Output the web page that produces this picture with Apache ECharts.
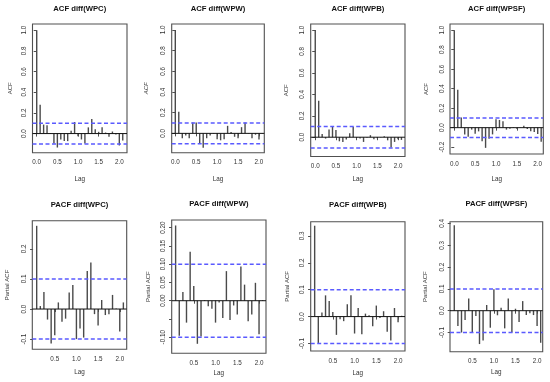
<!DOCTYPE html>
<html><head><meta charset="utf-8">
<script src="https://cdn.jsdelivr.net/npm/echarts@6/dist/echarts.min.js"></script>
<style>html,body{margin:0;padding:0;background:#fff}#c{width:550px;height:382px}</style>
</head><body><div id="c"></div>
<script>
// Lags (in years, monthly steps)
const acfLags = [0, 0.083, 0.167, 0.25, 0.333, 0.417, 0.5, 0.583, 0.667, 0.75, 0.833, 0.917, 1, 1.083, 1.167, 1.25, 1.333, 1.417, 1.5, 1.583, 1.667, 1.75, 1.833, 1.917, 2, 2.083];
const pacfLags = [0.083, 0.167, 0.25, 0.333, 0.417, 0.5, 0.583, 0.667, 0.75, 0.833, 0.917, 1, 1.083, 1.167, 1.25, 1.333, 1.417, 1.5, 1.583, 1.667, 1.75, 1.833, 1.917, 2, 2.083];

// ACF values
const acfWPC  = [1.0, 0.28, 0.087, 0.08, 0.005, -0.097, -0.135, -0.057, -0.073, -0.073, 0.027, 0.112, -0.027, -0.057, -0.097, 0.06, 0.14, 0.043, 0.017, 0.06, 0.01, -0.03, 0.02, -0.01, -0.115, -0.067];
const acfWPW  = [1.0, 0.21, -0.047, -0.02, -0.047, 0.105, 0.105, -0.097, -0.14, -0.047, -0.02, -0.005, -0.057, -0.067, -0.057, 0.073, 0.013, -0.033, -0.047, 0.06, 0.105, 0.003, -0.047, -0.013, -0.06, 0.003];
const acfWPB  = [1.0, 0.34, 0.03, -0.013, 0.073, 0.097, 0.067, -0.038, -0.044, -0.022, 0.038, 0.097, -0.006, -0.013, -0.044, -0.006, 0.019, -0.019, -0.01, 0.002, 0.01, -0.029, -0.095, -0.044, -0.019, -0.025];
const acfWPSF = [1.0, 0.39, 0.103, -0.069, -0.093, -0.02, -0.062, -0.038, -0.138, -0.207, -0.114, -0.069, 0.086, 0.079, 0.066, -0.02, -0.01, 0.005, -0.01, 0.002, 0.02, -0.014, -0.038, -0.045, -0.066, -0.145];

// PACF values
const pacfWPC  = [0.277, 0.01, 0.057, -0.035, -0.115, -0.087, 0.022, -0.042, -0.032, 0.055, 0.08, -0.1, -0.065, -0.095, 0.127, 0.155, -0.017, -0.055, 0.03, -0.02, -0.017, 0.047, 0.002, -0.075, 0.022];
const pacfWPW  = [0.206, -0.096, 0.024, -0.06, 0.134, 0.04, -0.118, -0.098, 0.002, -0.015, -0.022, -0.06, -0.005, -0.047, 0.081, -0.053, -0.013, -0.038, 0.094, 0.044, -0.056, -0.038, 0.049, -0.092, 0.002];
const pacfWPB  = [0.338, -0.098, 0.015, 0.079, 0.058, 0.017, -0.068, -0.01, -0.017, 0.046, 0.079, -0.063, 0.032, -0.066, 0.011, 0.005, -0.036, 0.041, -0.005, 0.02, -0.056, -0.089, 0.032, -0.021, 0.003];
const pacfWPSF = [0.392, -0.07, -0.1, -0.043, 0.056, -0.1, -0.024, -0.153, -0.137, 0.026, -0.078, 0.098, -0.021, 0.014, -0.081, 0.056, -0.1, 0.009, -0.052, 0.044, -0.02, -0.012, -0.02, -0.07, -0.147];

// Confidence bound (±)
const ciLevels = [0.1, 0.1, 0.1, 0.1, 0.1, 0.1, 0.1, 0.1];

// Titles and axis text
const titles = ['ACF diff(WPC)', 'ACF diff(WPW)', 'ACF diff(WPB)', 'ACF diff(WPSF)',
                'PACF diff(WPC)', 'PACF diff(WPW)', 'PACF diff(WPB)', 'PACF diff(WPSF)'];
const yNames = ['ACF', 'ACF', 'ACF', 'ACF', 'Partial ACF', 'Partial ACF', 'Partial ACF', 'Partial ACF'];
const xName = 'Lag';

// Tick values
const acfXTicks = [0, 0.5, 1, 1.5, 2];
const pacfXTicks = [0.5, 1, 1.5, 2];
const yTicks = [
  [0, 0.2, 0.4, 0.6, 0.8, 1.0],
  [0, 0.2, 0.4, 0.6, 0.8, 1.0],
  [0, 0.2, 0.4, 0.6, 0.8, 1.0],
  [-0.2, 0, 0.2, 0.4, 0.6, 0.8, 1.0],
  [-0.1, 0, 0.1, 0.2],
  [-0.1, -0.05, 0, 0.05, 0.1, 0.15, 0.2],
  [-0.1, 0, 0.1, 0.2, 0.3],
  [-0.1, 0, 0.1, 0.2, 0.3, 0.4]
];
const yLabelTicks = [
  [0, 0.2, 0.4, 0.6, 0.8, 1.0],
  [0, 0.2, 0.4, 0.6, 0.8, 1.0],
  [0, 0.2, 0.4, 0.6, 0.8, 1.0],
  [-0.2, 0, 0.2, 0.4, 0.6, 0.8, 1.0],
  [-0.1, 0, 0.1, 0.2],
  [-0.1, 0, 0.05, 0.1, 0.15, 0.2],
  [-0.1, 0, 0.1, 0.2, 0.3],
  [-0.1, 0, 0.1, 0.2, 0.3, 0.4]
];
const yDecimals = [1, 1, 1, 1, 1, 2, 1, 1];

const series = [acfWPC, acfWPW, acfWPB, acfWPSF, pacfWPC, pacfWPW, pacfWPB, pacfWPSF];

// Layout (pixels) and axis extents
const layout = [
  {g:[32.5, 24, 94.5, 128.7],  x:[-0.102, 2.186], y:[-0.185, 1.06],  ty:9.3,   ng:23.8, yg:19.5},
  {g:[171.7, 24, 92.6, 128.7], x:[-0.086, 2.127], y:[-0.187, 1.058], ty:9.3,   ng:23.8, yg:22, it:true},
  {g:[310.7, 24, 94.3, 132.5], x:[-0.11, 2.169],  y:[-0.18, 1.056],  ty:9.3,   ng:20,   yg:21},
  {g:[450, 24, 93.3, 130],     x:[-0.103, 2.134], y:[-0.27, 1.063],  ty:9.3,   ng:22.5, yg:20.3},
  {g:[32.3, 220.7, 94.4, 128.6], x:[-0.018, 2.16], y:[-0.134, 0.294], ty:204.8, ng:19.9, yg:22},
  {g:[171.7, 220, 94.3, 133.3],  x:[-0.007, 2.16], y:[-0.144, 0.221], ty:203.8, ng:16.5, yg:20.4},
  {g:[310.7, 221.7, 94.3, 129.3], x:[-0.008, 2.159], y:[-0.128, 0.353], ty:204.8, ng:18.8, yg:20.4},
  {g:[450, 221.7, 92.7, 130],    x:[-0.016, 2.13], y:[-0.188, 0.408], ty:204.3, ng:17.5, yg:21.3}
];

const FONT = '"Liberation Sans", Arial, sans-serif';
const option = {animation:false, title:[], grid:[], xAxis:[], yAxis:[], series:[]};

function hline(i, xr, yv, color, type, w) {
  return {
    type: 'line', xAxisIndex: i, yAxisIndex: i, showSymbol: false, symbol: 'none', silent: true,
    data: [[xr[0], yv], [xr[1], yv]], z: 5, color: color,
    lineStyle: {color: color, type: type, width: w}
  };
}

layout.forEach((L, i) => {
  const isAcf = i < 4;
  const lags = isAcf ? acfLags : pacfLags;
  const vals = series[i];
  option.title.push({
    text: titles[i], left: L.g[0] + L.g[2] / 2, top: L.ty - 4.5, textAlign: 'center', padding: 0,
    textStyle: {fontFamily: FONT, fontSize: 7.7, fontWeight: 'bold', color: '#111', lineHeight: 9}
  });
  option.grid.push({left: L.g[0], top: L.g[1], width: L.g[2], height: L.g[3], show: true,
    borderColor: '#505050', borderWidth: 1.1, backgroundColor: 'transparent', containLabel: false});
  const xt = isAcf ? acfXTicks : pacfXTicks;
  option.xAxis.push({
    type: 'value', gridIndex: i, min: L.x[0], max: L.x[1],
    name: xName, nameLocation: 'middle', nameGap: L.ng,
    nameTextStyle: {fontFamily: FONT, fontSize: 6.3, color: '#333'},
    axisLine: {show: false}, splitLine: {show: false},
    axisTick: {show: true, inside: false, length: 3, customValues: xt, lineStyle: {color: '#505050', width: 1}},
    axisLabel: {show: true, margin: 7, customValues: xt, fontFamily: FONT, fontSize: 6.3, color: '#333',
      formatter: v => Number(v).toFixed(1)}
  });
  const dec = yDecimals[i];
  option.yAxis.push({
    type: 'value', gridIndex: i, min: L.y[0], max: L.y[1],
    name: yNames[i], nameLocation: 'middle', nameGap: L.yg, nameRotate: 90,
    nameTextStyle: {fontFamily: FONT, fontSize: 6, color: '#333', fontStyle: L.it ? 'italic' : 'normal'},
    axisLine: {show: false}, splitLine: {show: false},
    axisTick: {show: true, inside: false, length: 3, customValues: yTicks[i], lineStyle: {color: '#505050', width: 1}},
    axisLabel: {show: true, margin: 5, rotate: 90, customValues: yLabelTicks[i], fontFamily: FONT, fontSize: 6.3, color: '#333',
      formatter: v => Number(v).toFixed(dec)}
  });
  const ci = ciLevels[i];
  option.series.push({
    type: 'bar', xAxisIndex: i, yAxisIndex: i, barWidth: 1.4,
    data: lags.map((x, k) => [x, vals[k]]),
    itemStyle: {color: '#4a4a4a'}, z: 3
  });
  option.series.push(hline(i, L.x, 0, '#111', 'solid', 1));
  option.series.push(hline(i, L.x, ci, '#5a5aff', [4, 2.5], 1.5));
  option.series.push(hline(i, L.x, -ci, '#5a5aff', [4, 2.5], 1.5));
});

const chart = echarts.init(document.getElementById('c'), null, {renderer: 'canvas'});
chart.setOption(option);
</script>
</body></html>
